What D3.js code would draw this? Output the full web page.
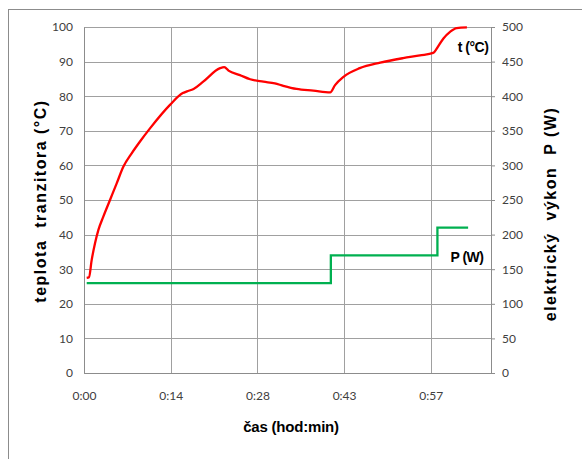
<!DOCTYPE html>
<html>
<head>
<meta charset="utf-8">
<script src="https://cdn.jsdelivr.net/npm/d3@7"></script>
<style>
  body { margin: 0; background: #fff; }
  svg text { font-family: "Lato", "Open Sans", sans-serif; }
</style>
</head>
<body>
<div id="chart"></div>
<script>
// time in minutes, temperature in °C
var tempMin = [0.45, 0.83, 1.28, 1.83, 2.38, 3.21, 4.32, 5.43, 6.53, 7.92, 9.30, 10.96, 14.28,
  16.4, 17.1, 18.2, 19.8, 22.6, 23.3, 24.0, 25.9, 27.6, 29.8, 31.7, 33.1, 35.3, 38.1, 40.9,
  41.7, 43.1, 45.8, 49.2, 53.0, 55.8, 58.0, 58.6, 59.7, 60.8, 61.9, 63.6];
var tempVal = [27.5, 27.7, 32.7, 37.5, 41.3, 45.2, 50.0, 54.8, 59.6, 63.5, 66.9, 70.7, 77.5,
  80.9, 81.4, 82.1, 84.2, 88.1, 88.4, 87.4, 86.1, 84.9, 84.2, 83.7, 83.0, 82.1, 81.6, 81.1,
  83.2, 85.6, 88.1, 89.7, 91.0, 91.8, 92.5, 93.8, 96.7, 98.6, 99.7, 99.9];

// electrical power in W (step curve)
var powMin = [0.45, 41.0, 41.0, 58.7, 58.7, 63.8];
var powVal = [130, 130, 170, 170, 210, 210];

var xTicks = [0, 14.4, 28.8, 43.2, 57.6];
var leftTicks = [0, 10, 20, 30, 40, 50, 60, 70, 80, 90, 100];
var rightTicks = [0, 50, 100, 150, 200, 250, 300, 350, 400, 450, 500];

var width = 582, height = 459;
var margin = {top: 27, right: 91, bottom: 86, left: 84};
var pw = width - margin.left - margin.right;
var ph = height - margin.top - margin.bottom;

var svg = d3.select("#chart").append("svg")
  .attr("width", width).attr("height", height);

// outer chart frame
svg.append("rect")
  .attr("x", 8.5).attr("y", 9.5)
  .attr("width", 590).attr("height", 470)
  .attr("fill", "none").attr("stroke", "#8c8c8c");

var g = svg.append("g").attr("transform", "translate(" + margin.left + "," + margin.top + ")");

var x = d3.scaleLinear().domain([0, 67.6]).range([0, pw]);
var yL = d3.scaleLinear().domain([0, 100]).range([ph, 0]);
var yR = d3.scaleLinear().domain([0, 500]).range([ph, 0]);

var fmtTime = function(m) {
  var mm = Math.floor(m + 1e-6);
  return Math.floor(mm / 60) + ":" + d3.format("02d")(mm % 60);
};

// grid
g.selectAll("line.hgrid").data(leftTicks).enter().append("line")
  .attr("class", "hgrid")
  .attr("x1", 0).attr("x2", pw)
  .attr("y1", function(d) { return Math.round(yL(d)) + 0.5; })
  .attr("y2", function(d) { return Math.round(yL(d)) + 0.5; })
  .attr("stroke", "#a0a0a0");
g.selectAll("line.vgrid").data(xTicks).enter().append("line")
  .attr("class", "vgrid")
  .attr("y1", 0).attr("y2", ph)
  .attr("x1", function(d) { return Math.round(x(d)) + 0.5; })
  .attr("x2", function(d) { return Math.round(x(d)) + 0.5; })
  .attr("stroke", "#a0a0a0");
g.append("line").attr("x1", pw + 0.5).attr("x2", pw + 0.5).attr("y1", 0).attr("y2", ph)
  .attr("stroke", "#a0a0a0");

// axes
var xAxis = d3.axisBottom(x).tickValues(xTicks).tickFormat(fmtTime).tickSize(0).tickPadding(18);
var axL = d3.axisLeft(yL).tickValues(leftTicks).tickSize(0).tickPadding(11);
var axR = d3.axisRight(yR).tickValues(rightTicks).tickSize(4).tickPadding(7);

function styleAxis(sel) {
  sel.select(".domain").attr("stroke", "#8c8c8c");
  sel.selectAll(".tick line").attr("stroke", "#8c8c8c");
  sel.selectAll("text").attr("fill", "#404040").style("font-size", "12px")
    .style("font-family", "Lato, 'Open Sans', sans-serif");
}
g.append("g").attr("transform", "translate(0," + ph + ")").call(xAxis).call(styleAxis);
g.append("g").call(axL).call(styleAxis);
g.append("g").attr("transform", "translate(" + pw + ",0)").call(axR).call(styleAxis);

// series
var tempLine = d3.line().x(function(d) { return x(d[0]); }).y(function(d) { return yL(d[1]); })
  .curve(d3.curveMonotoneX);
g.append("path").datum(d3.zip(tempMin, tempVal))
  .attr("d", tempLine).attr("fill", "none").attr("stroke", "#ff0000").attr("stroke-width", 2.3);

var powLine = d3.line().x(function(d) { return x(d[0]); }).y(function(d) { return yR(d[1]); });
g.append("path").datum(d3.zip(powMin, powVal))
  .attr("d", powLine).attr("fill", "none").attr("stroke", "#00b050").attr("stroke-width", 2.3);

// titles
var bold = "'Liberation Sans', Arial, sans-serif";
svg.append("text").attr("x", 291).attr("y", 432).attr("text-anchor", "middle")
  .style("font-family", bold).style("font-weight", "bold").style("font-size", "15px")
  .style("letter-spacing", "-0.2px").text("čas (hod:min)");
svg.append("text").attr("transform", "translate(46,201) rotate(-90)").attr("text-anchor", "middle")
  .style("font-family", bold).style("font-weight", "bold").style("font-size", "16px")
  .style("letter-spacing", "1.5px")
  .attr("xml:space", "preserve").text("teplota  tranzitora (°C)");
svg.append("text").attr("transform", "translate(556,214) rotate(-90)").attr("text-anchor", "middle")
  .style("font-family", bold).style("font-weight", "bold").style("font-size", "16px")
  .style("letter-spacing", "1.5px")
  .attr("xml:space", "preserve").text("elektrický  výkon  P (W)");

svg.append("text").attr("x", 473).attr("y", 52).attr("text-anchor", "middle")
  .style("font-family", bold).style("font-weight", "bold").style("font-size", "14px")
  .style("letter-spacing", "-0.5px").text("t (°C)");
svg.append("text").attr("x", 467).attr("y", 262).attr("text-anchor", "middle")
  .style("font-family", bold).style("font-weight", "bold").style("font-size", "14px")
  .style("letter-spacing", "-0.5px").text("P (W)");
</script>
</body>
</html>
